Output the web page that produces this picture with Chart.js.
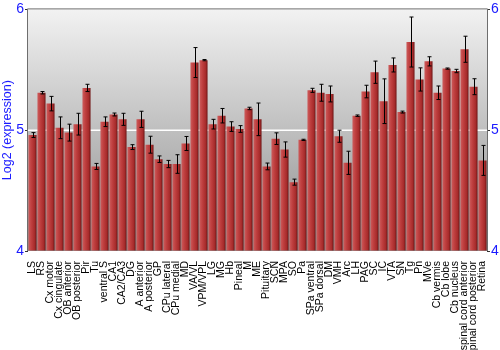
<!DOCTYPE html>
<html>
<head>
<meta charset="utf-8">
<script src="https://cdn.jsdelivr.net/npm/chart.js@4"></script>
<style>
  html, body { margin: 0; padding: 0; background: #fff; }
  #wrap { width: 500px; height: 350px; }
</style>
</head>
<body>
<div id="wrap"><canvas id="exprChart"></canvas></div>
<script>
const regions = ['LS', 'RS', 'Cx motor', 'Cx cingulate', 'OB anterior', 'OB posterior', 'Pir', 'Tu',
    'ventral S', 'CA1', 'CA2/CA3', 'DG', 'A anterior', 'A posterior', 'GP', 'CPu lateral', 'CPu medial',
    'MD', 'VA/VL', 'VPM/VPL', 'LG', 'MG', 'Hb', 'Pineal', 'M', 'ME', 'Pituitary', 'SCN', 'MPA', 'SO',
    'Pa', 'SPa ventral', 'SPa dorsal', 'DM', 'VMH', 'Arc', 'LH', 'PAG', 'SC', 'IC', 'VTA', 'SN', 'Tg',
    'Pn', 'MVe', 'Cb vermis', 'Cb lobe', 'Cb nucleus', 'spinal cord anterior', 'spinal cord posterior',
    'Retina'];

const expression = [4.96, 5.31, 5.22, 5.02, 4.98, 5.05, 5.35, 4.70, 5.07, 5.13, 5.09, 4.86, 5.09,
    4.88, 4.76, 4.72, 4.72, 4.89, 5.56, 5.58, 5.05, 5.12, 5.03, 5.01, 5.18, 5.09, 4.70, 4.93, 4.84,
    4.57, 4.92, 5.33, 5.31, 5.30, 4.95, 4.73, 5.12, 5.32, 5.48, 5.24, 5.54, 5.15, 5.73, 5.42, 5.57,
    5.31, 5.51, 5.49, 5.67, 5.36, 4.75];

const stdErr = [0.02, 0.01, 0.06, 0.09, 0.07, 0.09, 0.03, 0.025, 0.04, 0.012, 0.05, 0.02, 0.067,
    0.07, 0.027, 0.03, 0.077, 0.058, 0.124, 0.005, 0.04, 0.06, 0.04, 0.028, 0.01, 0.135, 0.028, 0.048,
    0.063, 0.025, 0.005, 0.017, 0.07, 0.066, 0.05, 0.096, 0.006, 0.052, 0.092, 0.185, 0.058, 0.008,
    0.207, 0.096, 0.038, 0.056, 0.005, 0.014, 0.108, 0.066, 0.124];

const yTicks = [4, 5, 6];

const blue = '#1a1aff';

// gray gradient behind the plot + frame
const backdrop = {
    id: 'backdrop',
    beforeDatasetsDraw(chart) {
        const { ctx, chartArea: a } = chart;
        const g = ctx.createLinearGradient(0, a.top, 0, a.bottom);
        g.addColorStop(0, '#f2f2f2');
        g.addColorStop(1, '#8c8c8c');
        ctx.save();
        ctx.fillStyle = g;
        ctx.fillRect(a.left, a.top, a.right - a.left, a.bottom - a.top);
        // white line at 5
        const y5 = chart.scales.y.getPixelForValue(5);
        ctx.strokeStyle = '#ffffff';
        ctx.lineWidth = 1.5;
        ctx.beginPath();
        ctx.moveTo(a.left, y5);
        ctx.lineTo(a.right, y5);
        ctx.stroke();
        ctx.restore();
    },
    afterDatasetsDraw(chart) {
        const { ctx, chartArea: a } = chart;
        ctx.save();
        ctx.strokeStyle = '#6e6e6e';
        ctx.lineWidth = 1;
        ctx.beginPath();
        ctx.moveTo(a.left - 0.5, a.bottom);
        ctx.lineTo(a.left - 0.5, a.top - 0.5);
        ctx.lineTo(a.right + 0.5, a.top - 0.5);
        ctx.lineTo(a.right + 0.5, a.bottom);
        ctx.stroke();
        ctx.restore();
    }
};

// error bars drawn through the y scale
const errorBars = {
    id: 'errorBars',
    afterDatasetsDraw(chart) {
        const { ctx } = chart;
        const x = chart.scales.x, y = chart.scales.y;
        ctx.save();
        ctx.strokeStyle = '#000';
        ctx.lineWidth = 1;
        expression.forEach((v, i) => {
            const cx = Math.round(x.getPixelForValue(i)) + 0.5;
            const top = y.getPixelForValue(v + stdErr[i]);
            const bot = y.getPixelForValue(v - stdErr[i]);
            ctx.beginPath();
            ctx.moveTo(cx, top); ctx.lineTo(cx, bot);
            ctx.moveTo(cx - 2, top); ctx.lineTo(cx + 2, top);
            ctx.moveTo(cx - 2, bot); ctx.lineTo(cx + 2, bot);
            ctx.stroke();
        });
        ctx.restore();
    }
};

function barFill(context) {
    const chart = context.chart;
    if (!chart.chartArea || context.type !== 'data') return '#b83333';
    const xs = chart.scales.x;
    const cx = xs.getPixelForValue(context.dataIndex);
    const w = (chart.chartArea.right - chart.chartArea.left) / regions.length * 0.9;
    const g = chart.ctx.createLinearGradient(cx - w / 2, 0, cx + w / 2, 0);
    g.addColorStop(0, '#cc5c5c');
    g.addColorStop(0.35, '#c04040');
    g.addColorStop(0.75, '#a82c2c');
    g.addColorStop(1, '#701616');
    return g;
}

const ctx = document.getElementById('exprChart');

new Chart(ctx, {
    type: 'bar',
    data: {
        labels: regions,
        datasets: [{
            label: 'Log2 (expression)',
            data: expression,
            backgroundColor: barFill,
            borderWidth: 0,
            categoryPercentage: 0.9,
            barPercentage: 1.0,
            base: 4
        }]
    },
    options: {
        responsive: true,
        maintainAspectRatio: false,
        animation: false,
        layout: { padding: { top: 9, left: 0, right: 0, bottom: 0 } },
        plugins: {
            legend: { display: false },
            tooltip: { enabled: false }
        },
        scales: {
            x: {
                grid: { display: false },
                border: { display: false },
                ticks: {
                    minRotation: 90,
                    maxRotation: 90,
                    autoSkip: false,
                    padding: 2,
                    color: '#000',
                    font: { family: 'Liberation Sans', size: 10.5 }
                },
                afterFit(scale) { scale.height = 99; }
            },
            y: {
                min: 4,
                max: 6,
                afterBuildTicks(scale) { scale.ticks = yTicks.map(v => ({ value: v })); },
                grid: { drawOnChartArea: false, tickLength: 3, tickColor: '#333' },
                border: { display: false },
                ticks: {
                    color: blue,
                    padding: 1,
                    font: { family: 'Liberation Sans', size: 14 }
                },
                title: {
                    display: true,
                    text: 'Log2 (expression)',
                    color: blue,
                    padding: 0,
                    font: { family: 'Liberation Sans', size: 12.5 }
                },
                afterFit(scale) { scale.width = 28; }
            },
            y2: {
                position: 'right',
                min: 4,
                max: 6,
                afterBuildTicks(scale) { scale.ticks = yTicks.map(v => ({ value: v })); },
                grid: { drawOnChartArea: false, tickLength: 3, tickColor: '#333' },
                border: { display: false },
                ticks: {
                    color: blue,
                    padding: 1,
                    font: { family: 'Liberation Sans', size: 14 }
                },
                afterFit(scale) { scale.width = 13; }
            }
        }
    },
    plugins: [backdrop, errorBars]
});
</script>
</body>
</html>
